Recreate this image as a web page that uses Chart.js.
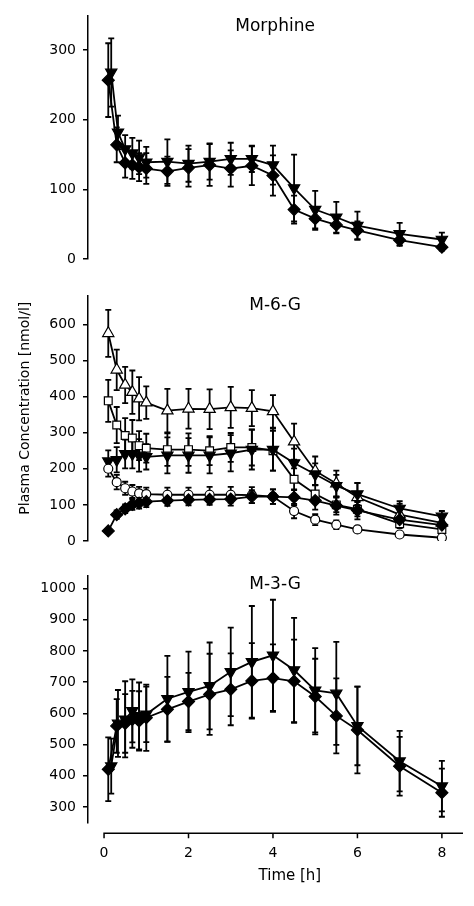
<!DOCTYPE html>
<html>
<head>
<meta charset="utf-8">
<script src="https://cdn.jsdelivr.net/npm/chart.js@4.4.1/dist/chart.umd.min.js"></script>
<style>
  body { margin: 0; background: #fff; }
  #wrap { position: relative; width: 474px; height: 906px; }
  canvas { position: absolute; left: 0; }
</style>
</head>
<body>
<div id="wrap">
  <canvas id="morphineChart" width="474" height="280" style="top:0px"></canvas>
  <canvas id="m6gChart" width="474" height="280" style="top:280px"></canvas>
  <canvas id="m3gChart" width="474" height="346" style="top:560px"></canvas>
</div>
<script>
// sampling times (h)
const times = [0.1, 0.3, 0.5, 0.67, 0.83, 1, 1.5, 2, 2.5, 3, 3.5, 4, 4.5, 5, 5.5, 6, 7, 8];
const timesTri = [0.17, 0.33, 0.5, 0.67, 0.83, 1, 1.5, 2, 2.5, 3, 3.5, 4, 4.5, 5, 5.5, 6, 7, 8];
const xTicks = [0, 2, 4, 6, 8];

// Morphine
const morphDiamond = [257, 164, 138, 135, 132, 130, 126, 131, 135, 130, 134, 120, 71, 58, 49, 41, 27, 17];
const morphDiamondErr = [53, 25, 21, 20, 20, 22, 21, 27, 30, 26, 28, 29, 20, 16, 12, 13, 8, 5];
const morphTri = [268, 182, 158, 152, 146, 139, 140, 137, 140, 144, 144, 135, 102, 71, 60, 48, 36, 28];
const morphTriErr = [49, 24, 20, 22, 24, 22, 32, 26, 26, 23, 19, 28, 48, 27, 22, 20, 16, 10];
const morphTicks = [0, 100, 200, 300];

// M-6-G
const m6gOpenTri = [575, 474, 432, 412, 394, 383, 361, 366, 365, 370, 368, 359, 275, 194, 159, 121, 73, 50];
const m6gOpenTriErr = [65, 56, 50, 60, 60, 45, 60, 55, 55, 57, 50, 45, 50, 40, 36, 40, 30, 20];
const m6gSquare = [388, 321, 292, 285, 264, 257, 253, 253, 250, 259, 259, 250, 171, 130, 100, 88, 48, 32];
const m6gSquareErr = [58, 50, 48, 50, 40, 40, 45, 45, 40, 40, 50, 55, 30, 25, 20, 20, 12, 10];
const m6gTri = [221, 225, 241, 241, 237, 233, 237, 237, 237, 243, 253, 253, 216, 185, 153, 130, 90, 68];
const m6gTriErr = [30, 35, 40, 40, 45, 35, 50, 48, 50, 50, 55, 58, 40, 30, 30, 30, 20, 15];
const m6gCircle = [200, 163, 146, 137, 132, 130, 128, 128, 128, 128, 127, 123, 83, 59, 45, 32, 18, 9];
const m6gCircleErr = [22, 20, 18, 18, 18, 18, 20, 20, 22, 22, 22, 20, 20, 15, 12, 8, 6, 4];
const m6gDiamond = [28, 73, 89, 101, 105, 109, 112, 114, 115, 116, 123, 123, 121, 112, 98, 85, 59, 44];
const m6gDiamondErr = [5, 12, 12, 15, 15, 15, 15, 15, 15, 18, 18, 20, 22, 25, 25, 25, 15, 12];
const m6gTicks = [0, 100, 200, 300, 400, 500, 600];

// M-3-G
const m3gDiamond = [421, 560, 568, 581, 576, 586, 613, 638, 661, 677, 704, 713, 703, 654, 592, 547, 431, 346];
const m3gDiamondErr = [102, 86, 94, 91, 95, 106, 104, 92, 130, 115, 121, 108, 133, 121, 120, 139, 94, 77];
const m3gTri = [431, 568, 581, 608, 592, 597, 647, 669, 688, 733, 765, 786, 739, 674, 664, 560, 447, 367];
const m3gTriErr = [88, 107, 122, 101, 107, 89, 137, 129, 139, 142, 179, 178, 167, 135, 165, 126, 97, 81];
const m3gTicks = [300, 400, 500, 600, 700, 800, 900, 1000];

const FONT = 'DejaVu Sans';

function pts(t, vals) {
    return vals.map((v, i) => ({ x: t[i], y: v }));
}

function series(t, vals, errs, style, filled, radius, rotation) {
    return {
        data: pts(t, vals),
        errors: errs,
        borderColor: '#000',
        borderWidth: 1.8,
        pointStyle: style,
        rotation: rotation || 0,
        pointRadius: radius,
        pointBackgroundColor: filled ? '#000' : '#fff',
        pointBorderColor: '#000',
        pointBorderWidth: 1.2,
        tension: 0
    };
}

// error bars (mean +/- SD) drawn behind the markers
const errorBars = {
    id: 'errorBars',
    beforeDatasetsDraw(chart) {
        const ctx = chart.ctx;
        const xs = chart.scales.x, ys = chart.scales.y;
        ctx.save();
        ctx.strokeStyle = '#000';
        ctx.lineWidth = 1.8;
        chart.data.datasets.forEach(ds => {
            ds.data.forEach((p, i) => {
                const e = ds.errors[i];
                const px = xs.getPixelForValue(p.x);
                const top = ys.getPixelForValue(p.y + e);
                const bot = ys.getPixelForValue(p.y - e);
                ctx.beginPath();
                ctx.moveTo(px, top); ctx.lineTo(px, bot);
                ctx.moveTo(px - 3, top); ctx.lineTo(px + 3, top);
                ctx.moveTo(px - 3, bot); ctx.lineTo(px + 3, bot);
                ctx.stroke();
            });
        });
        ctx.restore();
    }
};

// panel name, y title and the detached x axis line
const panelText = {
    id: 'panelText',
    afterDraw(chart, args, opts) {
        const ctx = chart.ctx;
        const area = chart.chartArea;
        const xs = chart.scales.x;
        ctx.save();
        ctx.fillStyle = '#000';
        ctx.textAlign = 'center';
        ctx.textBaseline = 'middle';
        ctx.font = '17px "' + FONT + '"';
        ctx.fillText(opts.text, xs.getPixelForValue(4.05), area.top + opts.titleOffset);
        if (opts.yTitle) {
            ctx.save();
            ctx.translate(25, (area.top + area.bottom) / 2 - 10);
            ctx.rotate(-Math.PI / 2);
            ctx.font = '14px "' + FONT + '"';
            ctx.fillText(opts.yTitle, 0, 0);
            ctx.restore();
        }
        if (opts.xAxis) {
            const y = area.bottom + 10.5;
            ctx.strokeStyle = '#000';
            ctx.lineWidth = 1.5;
            ctx.beginPath();
            ctx.moveTo(xs.getPixelForValue(0) - 0.75, y);
            ctx.lineTo(area.right, y);
            xTicks.forEach(v => {
                const px = xs.getPixelForValue(v);
                ctx.moveTo(px, y);
                ctx.lineTo(px, y + 5);
            });
            ctx.stroke();
            ctx.font = '15px "' + FONT + '"';
            ctx.fillText('Time [h]', xs.getPixelForValue(4.4), area.bottom + 53);
        }
        ctx.restore();
    }
};

function makeChart(id, datasets, yMin, yMax, yTicks, cfg) {
    return new Chart(document.getElementById(id), {
        type: 'line',
        data: { datasets: datasets },
        plugins: [errorBars, panelText],
        options: {
            responsive: false,
            animation: false,
            layout: { padding: cfg.padding },
            plugins: {
                legend: { display: false },
                tooltip: { enabled: false },
                panelText: cfg.text
            },
            scales: {
                x: {
                    type: 'linear',
                    min: -0.38,
                    max: 8.5,
                    display: cfg.showX,
                    afterBuildTicks: s => { s.ticks = xTicks.map(v => ({ value: v })); },
                    afterFit: s => { s.height = cfg.xHeight || 0; },
                    grid: { display: false, drawTicks: false },
                    border: { display: false },
                    ticks: { color: '#000', font: { family: FONT, size: 14 }, padding: 22, maxRotation: 0,
                             callback: v => String(v) }
                },
                y: {
                    min: yMin,
                    max: yMax,
                    afterBuildTicks: s => { s.ticks = yTicks.map(v => ({ value: v })); },
                    afterFit: s => { s.width = 88; },
                    grid: { drawOnChartArea: false, drawTicks: true, tickLength: 5, color: '#000', lineWidth: 1.5 },
                    border: { color: '#000', width: 1.5 },
                    ticks: { color: '#000', font: { family: FONT, size: 14 }, padding: 7,
                             callback: v => String(v) }
                }
            }
        }
    });
}

makeChart('morphineChart', [
    series(times, morphDiamond, morphDiamondErr, 'rectRot', true, 6),
    series(timesTri, morphTri, morphTriErr, 'triangle', true, 6.5, 180)
], 0, 350, morphTicks, {
    padding: { top: 10.7, bottom: 21, left: 0, right: 11 },
    showX: false,
    text: { text: 'Morphine', titleOffset: 11 }
});

makeChart('m6gChart', [
    series(times, m6gDiamond, m6gDiamondErr, 'rectRot', true, 6),
    series(times, m6gCircle, m6gCircleErr, 'circle', false, 4.5),
    series(times, m6gTri, m6gTriErr, 'triangle', true, 6.5, 180),
    series(times, m6gSquare, m6gSquareErr, 'rect', false, 5.5),
    series(times, m6gOpenTri, m6gOpenTriErr, 'triangle', false, 6.5)
], 0, 680, m6gTicks, {
    padding: { top: 12.7, bottom: 19, left: 0, right: 11 },
    showX: false,
    text: { text: 'M-6-G', titleOffset: 10, yTitle: 'Plasma Concentration [nmol/l]' }
});

makeChart('m3gChart', [
    series(times, m3gDiamond, m3gDiamondErr, 'rectRot', true, 6),
    series(timesTri, m3gTri, m3gTriErr, 'triangle', true, 6.5, 180)
], 250, 1040, m3gTicks, {
    padding: { top: 16, bottom: 0, left: 0, right: 11 },
    showX: true,
    xHeight: 83.3,
    text: { text: 'M-3-G', titleOffset: 9, xAxis: true }
});
</script>
</body>
</html>
